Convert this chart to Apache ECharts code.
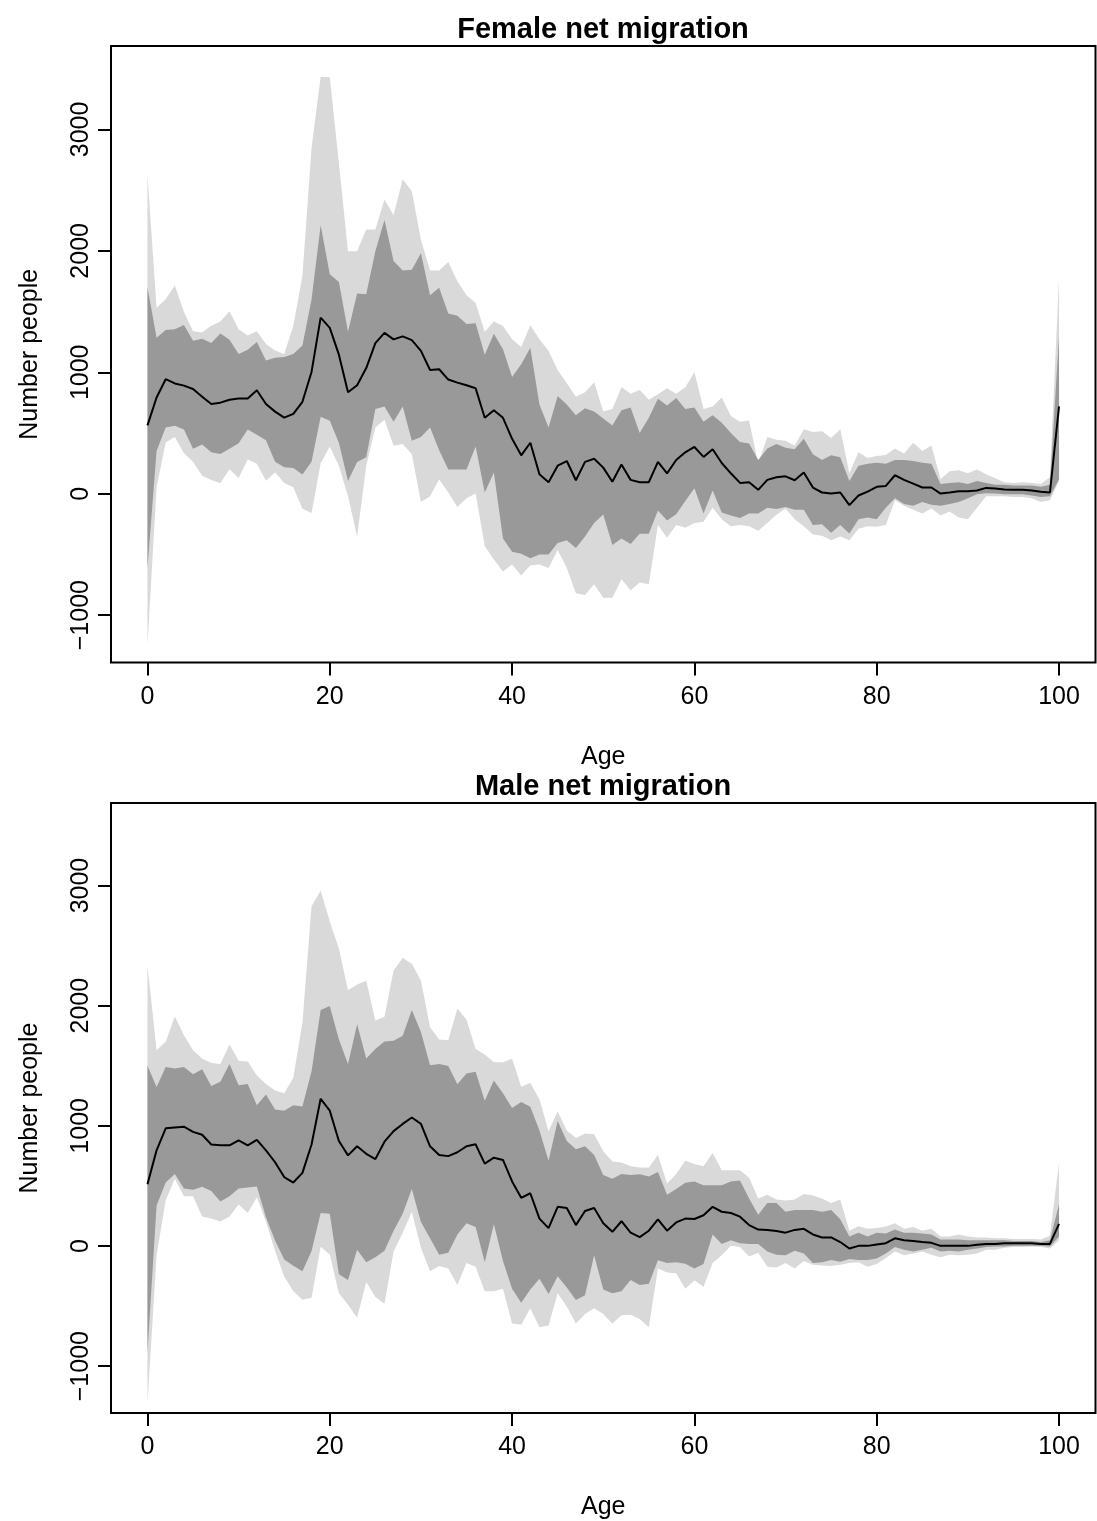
<!DOCTYPE html>
<html>
<head>
<meta charset="utf-8">
<title>Net migration by age</title>
<script src="https://cdn.jsdelivr.net/npm/echarts@6/dist/echarts.min.js"></script>
<style>
  html, body { margin: 0; padding: 0; background: #fff; }
  #main { width: 1097px; height: 1521px; }
</style>
</head>
<body>
<div id="main"></div>
<script>
  // single years of age, 0..100
  const ages = [];
  for (let a = 0; a <= 100; a++) ages.push(a);

  // female: outer (light) and inner (dark) intervals plus median
  const femaleHi95 = [2622,1531,1601,1714,1496,1337,1327,1383,1418,1503,
    1355,1302,1337,1232,1179,1151,1383,1795,2850,3431,
    3430,2721,1996,1996,2176,2176,2422,2295,2589,2491,
    2091,1838,1838,1908,1750,1634,1570,1334,1419,1381,
    1271,1208,1388,1271,1176,1019,909,798,836,918,
    678,697,877,823,855,773,820,868,823,877,
    1000,697,719,792,641,593,603,247,467,445,
    436,395,530,508,515,458,530,168,341,294,
    310,318,373,332,420,351,398,120,184,193,
    168,199,161,127,95,89,95,89,80,136,
    1775];
  const femaleHi80 = [1700,1284,1348,1355,1390,1260,1277,1242,1320,1267,
    1151,1186,1249,1098,1119,1126,1151,1221,1600,2210,
    1807,1744,1334,1649,1643,1996,2254,1917,1838,1845,
    1980,1634,1697,1485,1466,1397,1403,1145,1318,1190,
    962,1066,1202,735,546,805,735,647,704,678,
    619,562,688,710,499,625,782,726,789,697,
    710,593,647,584,499,426,414,278,373,410,
    379,366,452,325,278,316,300,105,231,247,
    256,247,278,278,269,256,247,80,89,95,
    80,105,89,73,73,67,67,67,57,73,
    1300];
  const femaleMed = [563,792,943,908,890,862,799,739,750,774,
    785,785,852,739,676,626,658,757,1003,1450,
    1366,1145,836,893,1035,1240,1325,1271,1296,1265,
    1176,1019,1025,940,915,893,868,625,688,625,
    452,316,420,161,95,231,269,111,262,288,
    215,99,240,114,95,95,262,168,278,341,
    385,303,366,253,168,89,95,32,114,136,
    143,111,174,51,10,1,10,-94,-15,17,
    57,64,152,114,83,51,51,1,10,20,
    20,26,48,42,35,32,32,26,17,10,
    719];
  const femaleLo80 = [-616,352,545,560,528,370,405,341,327,370,
    415,528,486,440,264,218,211,158,264,633,
    600,420,105,262,300,697,719,593,719,436,
    467,546,357,199,199,199,388,10,174,-368,
    -478,-494,-532,-500,-500,-406,-384,-447,-352,-242,
    -172,-422,-368,-415,-330,-330,-138,-220,-169,-59,
    45,-163,26,-154,-179,-201,-163,-163,-116,-125,
    -110,-132,-132,-258,-251,-321,-258,-327,-210,-195,
    -210,-116,-37,-84,-100,-69,-91,-100,-84,-69,
    -37,-5,4,1,-5,-5,-5,-15,-27,-21,
    120];
  const femaleLo95 = [-1249,53,422,468,334,264,148,113,88,201,
    130,282,246,106,176,88,53,-123,-158,250,
    388,231,-21,-352,231,546,609,395,410,325,
    -69,-21,120,10,-110,-37,1,-431,-541,-640,
    -582,-674,-589,-582,-611,-463,-611,-819,-835,-746,
    -857,-857,-705,-794,-731,-746,-258,-362,-258,-280,
    -242,-230,-116,-210,-267,-258,-267,-305,-242,-173,
    -122,-210,-267,-336,-346,-384,-352,-384,-289,-267,
    -273,-258,-53,-100,-132,-163,-122,-179,-147,-195,
    -210,-116,-21,-21,-21,-27,-27,-37,-69,-53,
    105];

  // male
  const maleHi95 = [2334,1630,1700,1911,1753,1630,1559,1524,1514,1676,
    1542,1535,1419,1348,1295,1271,1401,1859,2827,2957,
    2700,2475,2129,2176,2207,1876,1908,2292,2396,2349,
    2207,1820,1719,1713,1977,1883,1640,1593,1530,1530,
    1558,1325,1356,1221,956,1120,962,899,937,931,
    789,704,694,663,653,653,758,521,600,710,
    682,663,773,631,631,631,568,395,427,386,
    379,386,433,420,395,357,386,127,165,143,
    149,163,190,143,159,127,143,80,80,96,
    80,71,71,64,64,58,58,58,55,86,
    690];
  const maleHi80 = [1500,1324,1489,1478,1489,1429,1471,1331,1366,1514,
    1338,1348,1172,1260,1137,1126,1172,1162,1454,1964,
    1998,1719,1514,1845,1561,1640,1703,1709,1750,1965,
    1782,1505,1514,1498,1347,1435,1451,1208,1378,1271,
    1148,1199,1158,962,710,1041,874,805,830,758,
    590,559,600,590,597,578,616,426,474,527,
    537,505,505,505,537,546,395,259,357,357,
    285,300,300,300,285,300,222,80,111,80,
    111,103,137,111,111,105,96,55,55,55,
    48,48,48,48,48,42,42,42,33,48,
    348];
  const maleMed = [514,796,979,986,993,950,926,845,838,838,
    880,838,884,796,697,574,528,609,845,1225,
    1126,874,754,830,767,723,868,956,1016,1069,
    1016,830,758,748,780,830,846,685,735,716,
    537,401,439,228,149,326,316,174,291,316,
    190,118,206,111,74,127,222,127,196,228,
    225,256,326,285,275,244,174,137,134,124,
    111,134,143,96,71,71,33,-21,1,1,
    13,23,64,48,42,33,26,1,1,1,
    1,10,17,17,23,23,23,23,17,17,
    184];
  const maleLo80 = [-887,338,528,600,479,468,493,458,370,415,
    479,486,496,239,46,-113,-165,-211,-42,275,
    269,-235,-283,-31,-135,-94,-40,127,269,474,
    200,64,-72,-56,96,190,159,-135,181,-125,
    -355,-472,-362,-273,-399,-251,-346,-450,-409,-78,
    -362,-393,-377,-283,-324,-314,-119,-141,-135,-147,
    -188,-150,96,17,48,23,17,17,-46,-72,
    -78,-40,-62,-141,-135,-116,-131,-109,-116,-116,
    -105,-62,-8,-31,-46,-31,-15,-46,-40,-46,
    -31,-21,-8,-5,-5,1,1,1,1,-5,
    80];
  const maleLo95 = [-1309,-77,380,560,415,415,246,229,204,246,
    345,275,405,204,-42,-253,-377,-447,-430,-7,
    -70,-393,-488,-598,-299,-425,-481,-46,111,285,
    -15,-210,-166,-188,-324,-141,-173,-377,-377,-355,
    -645,-655,-519,-677,-661,-393,-503,-645,-566,-519,
    -566,-645,-576,-573,-607,-677,-188,-220,-226,-355,
    -285,-340,-141,-78,1,-8,-87,-56,-173,-179,
    -141,-188,-125,-157,-163,-166,-157,-141,-135,-173,
    -150,-100,-46,-78,-62,-46,-72,-94,-72,-78,
    -72,-62,-31,-31,-15,-8,-8,-5,-8,-21,
    48];

  const xTicks = [0, 20, 40, 60, 80, 100];
  const yTicks = [-1000, 0, 1000, 2000, 3000];

  const FONT = '"Liberation Sans", Arial, Helvetica, sans-serif';
  const LIGHT = '#d9d9d9';
  const DARK = '#999999';

  const panels = [
    { title: 'Female net migration', top: 46, hi95: femaleHi95, hi80: femaleHi80, med: femaleMed, lo80: femaleLo80, lo95: femaleLo95 },
    { title: 'Male net migration', top: 803, hi95: maleHi95, hi80: maleHi80, med: maleMed, lo80: maleLo80, lo95: maleLo95 }
  ];

  const pairs = vals => ages.map((a, i) => [a, vals[i]]);

  // one filled polygon per interval: upper edge left->right, lower edge back
  function band(k, hi, lo, color) {
    return {
      type: 'custom', xAxisIndex: k, yAxisIndex: k, silent: true,
      data: ages.map((a, i) => [a, lo[i], hi[i]]),
      encode: { x: 0, y: [1, 2] },
      renderItem: (params, api) => {
        if (params.dataIndex !== 0) return null;
        const upper = ages.map((a, i) => api.coord([a, hi[i]]));
        const lower = ages.map((a, i) => api.coord([a, lo[i]])).reverse();
        return {
          type: 'polygon',
          shape: { points: upper.concat(lower) },
          style: { fill: color, stroke: null }
        };
      }
    };
  }

  const grid = [], xAxis = [], yAxis = [], series = [], graphic = [];

  panels.forEach((p, k) => {
    grid.push({
      left: 111, top: p.top, width: 984.5, height: 616.5,
      show: true, borderColor: '#000', borderWidth: 2
    });
    xAxis.push({
      gridIndex: k, type: 'value', min: -4, max: 104,
      axisLine: { show: false, onZero: false },
      splitLine: { show: false },
      axisTick: { show: true, length: 13, customValues: xTicks, lineStyle: { color: '#000', width: 2 } },
      axisLabel: { customValues: xTicks, margin: 22, fontSize: 25, color: '#000', fontFamily: FONT },
      name: 'Age', nameLocation: 'middle', nameGap: 82,
      nameTextStyle: { fontSize: 25, color: '#000', fontFamily: FONT }
    });
    yAxis.push({
      gridIndex: k, type: 'value', min: -1390, max: 3687,
      axisLine: { show: false, onZero: false },
      splitLine: { show: false },
      axisTick: { show: true, length: 13, customValues: yTicks, lineStyle: { color: '#000', width: 2 } },
      axisLabel: {
        customValues: yTicks, rotate: 90, margin: 17, fontSize: 25, color: '#000', fontFamily: FONT,
        formatter: v => String(v).replace('-', '\u2212')
      },
      name: 'Number people', nameLocation: 'middle', nameGap: 68,
      nameTextStyle: { fontSize: 25, color: '#000', fontFamily: FONT }
    });

    series.push(band(k, p.hi95, p.lo95, LIGHT));
    series.push(band(k, p.hi80, p.lo80, DARK));
    series.push({
      type: 'line', xAxisIndex: k, yAxisIndex: k,
      data: pairs(p.med), symbol: 'none', silent: true,
      lineStyle: { color: '#000', width: 2 }, z: 5
    });

    graphic.push({
      type: 'text', x: 603, y: p.top - 16,
      style: { text: p.title, font: 'bold 29px ' + FONT, align: 'center', verticalAlign: 'middle', fill: '#000' }
    });
  });

  const chart = echarts.init(document.getElementById('main'));
  chart.setOption({
    animation: false,
    backgroundColor: '#fff',
    grid, xAxis, yAxis, series, graphic
  });
</script>
</body>
</html>
